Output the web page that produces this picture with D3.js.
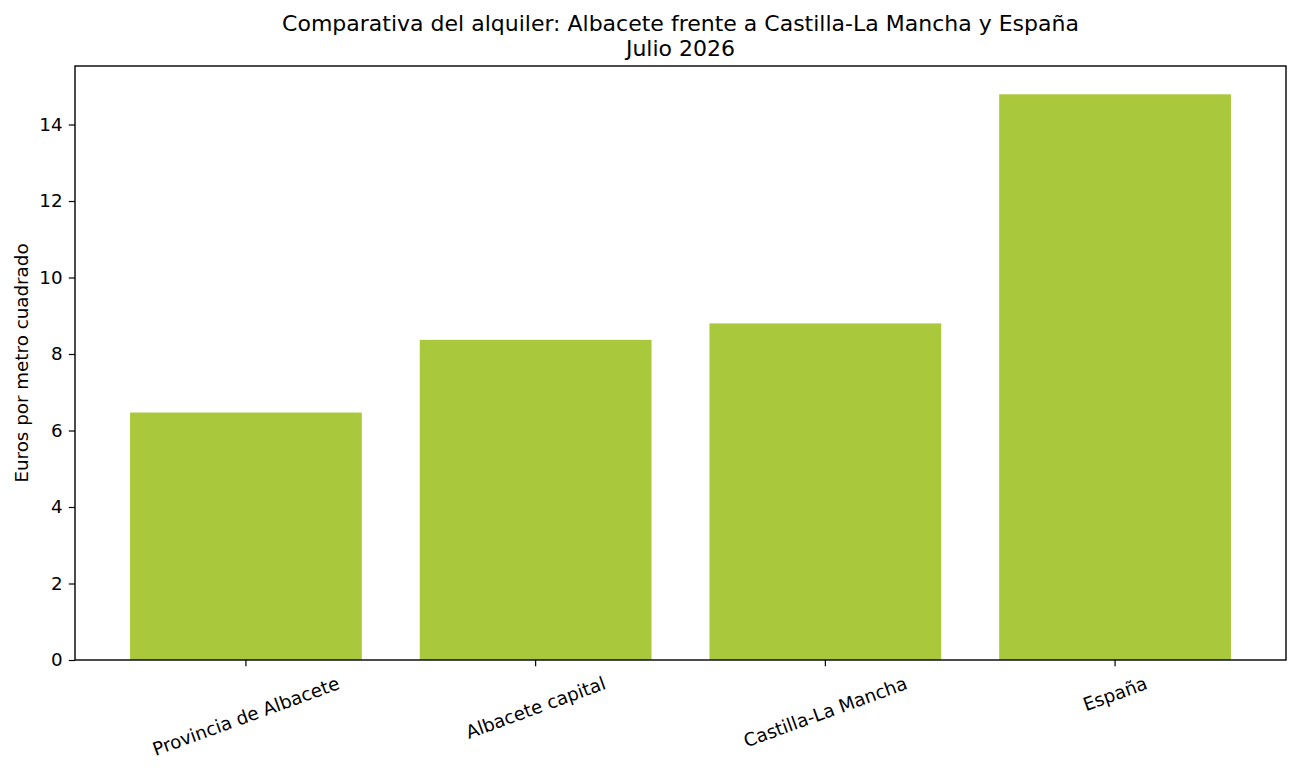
<!DOCTYPE html>
<html>
<head>
<meta charset="utf-8">
<script src="https://cdn.jsdelivr.net/npm/d3@7"></script>
<style>
  body { margin: 0; background: #fff; }
  text { font-family: "DejaVu Sans", sans-serif; fill: #000; }
</style>
</head>
<body>
<div id="chart"></div>
<script>
// data
var categories = ["Provincia de Albacete", "Albacete capital", "Castilla-La Mancha", "España"];
var values = [6.47, 8.37, 8.80, 14.79];
var yTicks = [0, 2, 4, 6, 8, 10, 12, 14];
var titleLines = ["Comparativa del alquiler: Albacete frente a Castilla-La Mancha y España", "Julio 2026"];
var yLabel = "Euros por metro cuadrado";

var W = 1300, H = 771;
var m = {left: 75, right: 14, top: 66, bottom: 111};
var iw = W - m.left - m.right, ih = H - m.top - m.bottom;
var tickFont = 18.3, tickLen = 6.2, tickPad = 6.2;

var svg = d3.select("div#chart").append("svg")
  .attr("width", W).attr("height", H);

var g = svg.append("g").attr("transform", "translate(" + m.left + "," + m.top + ")");

// matplotlib-like: bars at integer positions, width 0.8, 5% margins
var x = d3.scaleLinear().domain([-0.59, categories.length - 1 + 0.59]).range([0, iw]);
var y = d3.scaleLinear().domain([0, d3.max(values) * 1.05]).range([ih, 0]);

// bars
g.selectAll("rect.bar")
  .data(values)
  .enter().append("rect")
  .attr("class", "bar")
  .attr("x", function(d, i) { return x(i - 0.4); })
  .attr("width", function(d, i) { return x(i + 0.4) - x(i - 0.4); })
  .attr("y", function(d) { return y(d); })
  .attr("height", function(d) { return ih - y(d); })
  .attr("fill", "#a9c83b");

// y axis
var yAxis = d3.axisLeft(y).tickValues(yTicks).tickSize(tickLen).tickPadding(tickPad).tickFormat(d3.format("d"));
var ya = g.append("g").call(yAxis);
ya.select(".domain").remove();
ya.selectAll("line").attr("stroke", "#000").attr("stroke-width", 1.2);
ya.selectAll("text").style("font-size", tickFont + "px").attr("font-family", null);

// x axis ticks
var xa = g.append("g").attr("transform", "translate(0," + ih + ")");
xa.selectAll("line")
  .data(categories)
  .enter().append("line")
  .attr("x1", function(d, i) { return x(i); })
  .attr("x2", function(d, i) { return x(i); })
  .attr("y1", 0).attr("y2", tickLen)
  .attr("stroke", "#000").attr("stroke-width", 1.2);

// rotated labels, bbox centered under tick like matplotlib rotation=20
var ang = 20 * Math.PI / 180;
var th = tickFont * 1.164;
xa.selectAll("text")
  .data(categories)
  .enter().append("text")
  .text(function(d) { return d; })
  .style("font-size", tickFont + "px")
  .attr("text-anchor", "middle")
  .attr("dominant-baseline", "central")
  .each(function(d, i) {
    var w = this.getComputedTextLength();
    var bh = w * Math.sin(ang) + th * Math.cos(ang);
    var cx = x(i), cy = tickLen + tickPad + bh / 2;
    d3.select(this).attr("transform", "translate(" + cx + "," + cy + ") rotate(-20)");
  });

// frame
g.append("rect")
  .attr("x", 0).attr("y", 0).attr("width", iw).attr("height", ih)
  .attr("fill", "none").attr("stroke", "#000").attr("stroke-width", 1.4);

// y label
svg.append("text")
  .attr("transform", "translate(28," + (m.top + ih / 2) + ") rotate(-90)")
  .attr("text-anchor", "middle")
  .style("font-size", tickFont + "px")
  .text(yLabel);

// title
svg.selectAll("text.title")
  .data(titleLines)
  .enter().append("text")
  .attr("class", "title")
  .attr("x", m.left + iw / 2)
  .attr("y", function(d, i) { return 31 + i * 25; })
  .attr("text-anchor", "middle")
  .style("font-size", "22px")
  .text(function(d) { return d; });
</script>
</body>
</html>
